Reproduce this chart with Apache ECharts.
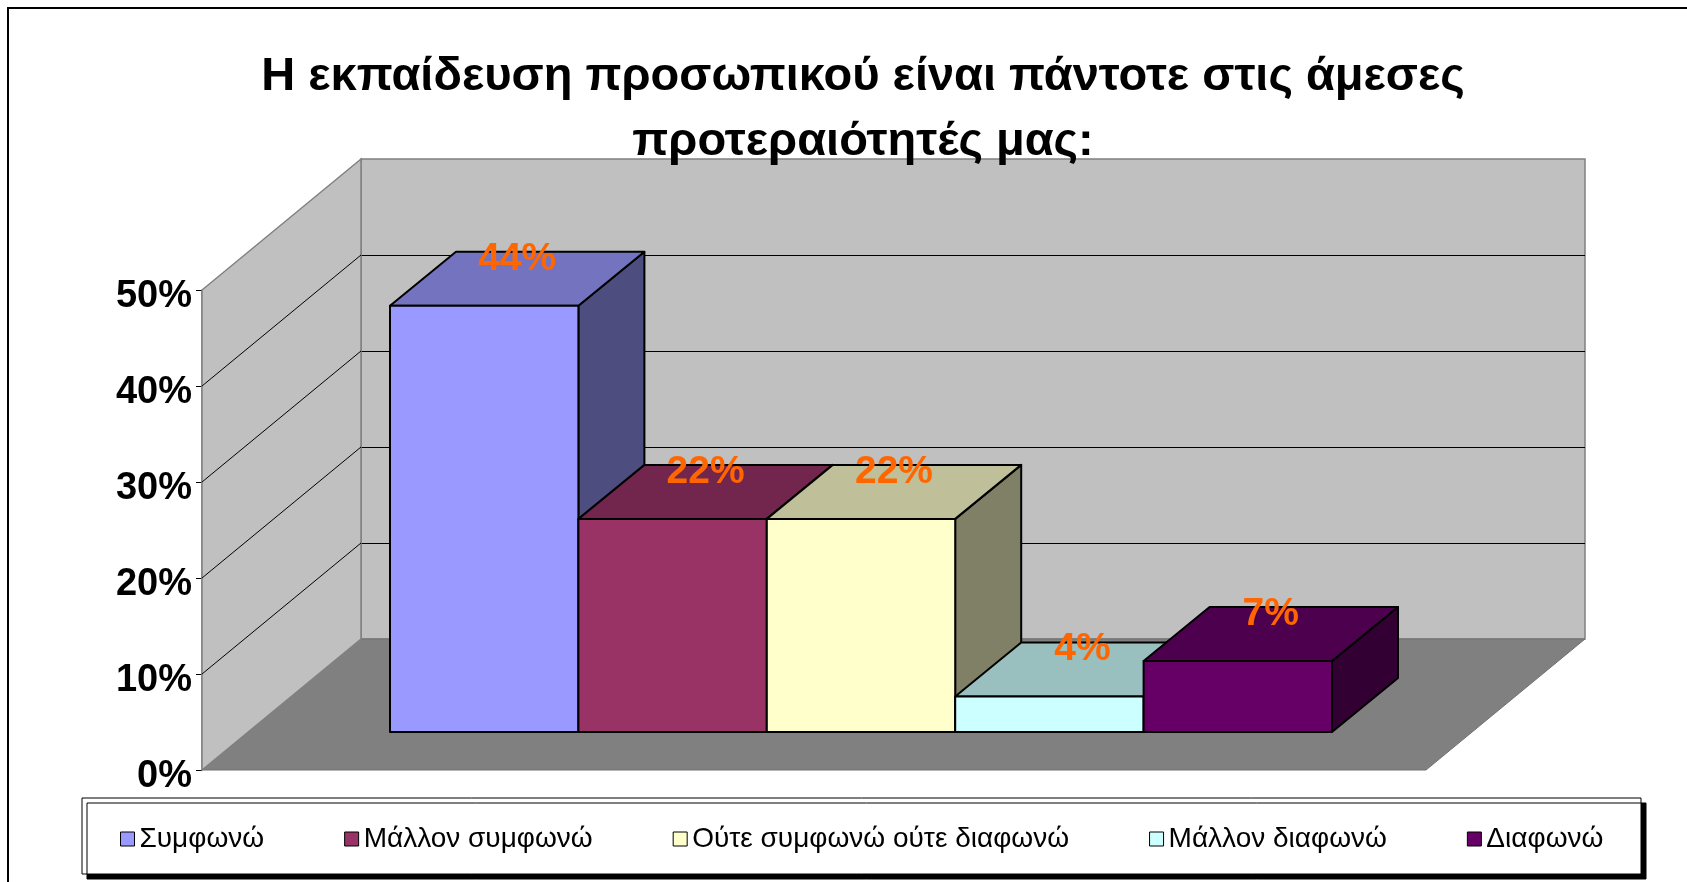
<!DOCTYPE html>
<html>
<head>
<meta charset="utf-8">
<script src="https://cdn.jsdelivr.net/npm/echarts@6/dist/echarts.min.js"></script>
<style>
  html, body { margin: 0; padding: 0; background: #fff; }
  #chart { width: 1687px; height: 882px; }
</style>
</head>
<body>
<div id="chart"></div>
<script>
// data
const titleLines = ['Η εκπαίδευση προσωπικού είναι πάντοτε στις άμεσες', 'προτεραιότητές μας:'];
const seriesNames = ['Συμφωνώ', 'Μάλλον συμφωνώ', 'Ούτε συμφωνώ ούτε διαφωνώ', 'Μάλλον διαφωνώ', 'Διαφωνώ'];
const seriesValues = [44.4, 22.2, 22.2, 3.7, 7.4];
const frontColors = ['#9999ff', '#993366', '#ffffcc', '#ccffff', '#660066'];
const yTicks = [0, 10, 20, 30, 40, 50];

// 3d look
const WALL_DEPTH = [159, -131];
const BAR_DEPTH = [66, -54];
const FONT = '"Liberation Sans", Arial, sans-serif';

function shade(hex, k) {
  const n = parseInt(hex.slice(1), 16);
  const r = Math.round(((n >> 16) & 255) * k);
  const g = Math.round(((n >> 8) & 255) * k);
  const b = Math.round((n & 255) * k);
  return 'rgb(' + r + ',' + g + ',' + b + ')';
}

function add(p, d) {
  return [p[0] + d[0], p[1] + d[1]];
}

function renderWalls(params, api) {
  const bl = api.coord([0, 0]);
  const br = api.coord([1, 0]);
  const tl = api.coord([0, yTicks[yTicks.length - 1]]);
  const D = WALL_DEPTH;
  const children = [
    {
      type: 'polygon',
      shape: { points: [bl, br, add(br, D), add(bl, D)] },
      style: { fill: '#808080', stroke: '#707070', lineWidth: 1 }
    },
    {
      type: 'polygon',
      shape: { points: [bl, tl, add(tl, D), add(bl, D)] },
      style: { fill: '#c0c0c0', stroke: '#808080', lineWidth: 1.5 }
    }
  ];
  yTicks.slice(1, -1).forEach(function (t) {
    const p = api.coord([0, t]);
    children.push({
      type: 'line',
      shape: { x1: p[0], y1: p[1], x2: p[0] + D[0], y2: p[1] + D[1] },
      style: { stroke: '#000', lineWidth: 1 }
    });
  });
  return { type: 'group', children: children };
}

function renderBar(params, api) {
  const i = api.value(0);
  const v = api.value(1);
  const base = api.coord([i, 0]);
  const top = api.coord([i, v]);
  const w = api.size([1, 0])[0];
  const x0 = base[0] - w / 2;
  const x1 = base[0] + w / 2;
  const yb = base[1];
  const yt = top[1];
  const d = BAR_DEPTH;
  const col = frontColors[params.seriesIndex - 1];
  const edge = { stroke: '#000', lineWidth: 2, lineJoin: 'round' };
  return {
    type: 'group',
    children: [
      {
        type: 'polygon',
        shape: { points: [[x1, yb], [x1, yt], [x1 + d[0], yt + d[1]], [x1 + d[0], yb + d[1]]] },
        style: Object.assign({ fill: shade(col, 0.5) }, edge)
      },
      {
        type: 'polygon',
        shape: { points: [[x0, yt], [x1, yt], [x1 + d[0], yt + d[1]], [x0 + d[0], yt + d[1]]] },
        style: Object.assign({ fill: shade(col, 0.75) }, edge)
      },
      {
        type: 'rect',
        shape: { x: x0, y: yt, width: w, height: yb - yt },
        style: Object.assign({ fill: col }, edge)
      },
      {
        type: 'text',
        style: {
          text: Math.round(v) + '%',
          x: base[0] + d[0] / 2,
          y: yt + d[1] + 7,
          fill: '#ff6600',
          font: 'bold 39px ' + FONT,
          align: 'center',
          verticalAlign: 'middle'
        }
      }
    ]
  };
}

const chart = echarts.init(document.getElementById('chart'));

const series = [
  {
    type: 'custom',
    name: 'walls',
    xAxisIndex: 1,
    yAxisIndex: 1,
    z: 1,
    silent: true,
    data: [[0, 0]],
    renderItem: renderWalls
  }
];
seriesNames.forEach(function (name, i) {
  series.push({
    type: 'custom',
    name: name,
    xAxisIndex: 0,
    yAxisIndex: 0,
    z: 2,
    itemStyle: { color: frontColors[i], borderColor: '#000', borderWidth: 1 },
    encode: { x: 0, y: 1 },
    data: [[i, seriesValues[i]]],
    renderItem: renderBar
  });
});

const option = {
  animation: false,
  title: {
    text: titleLines.join('\n'),
    left: 858,
    top: 40,
    textAlign: 'center',
    textStyle: {
      fontFamily: FONT,
      fontSize: 47,
      fontWeight: 'bold',
      color: '#000',
      lineHeight: 65
    }
  },
  graphic: [
    {
      type: 'rect',
      shape: { x: 8, y: 8, width: 1700, height: 900 },
      style: { fill: 'none', stroke: '#000', lineWidth: 2 }
    },
    {
      type: 'rect',
      shape: { x: 82, y: 798, width: 1559, height: 76 },
      style: {
        fill: '#fff', stroke: '#000', lineWidth: 1,
        shadowColor: '#000', shadowOffsetX: 5, shadowOffsetY: 5, shadowBlur: 0
      }
    }
  ],
  legend: {
    data: seriesNames,
    left: 115,
    top: 820,
    itemGap: 80,
    itemWidth: 14,
    itemHeight: 14,
    icon: 'rect',
    itemStyle: { borderColor: '#000', borderWidth: 1 },
    textStyle: { fontFamily: FONT, fontSize: 28, color: '#000' }
  },
  grid: [
    // bar front plane
    { left: 390, right: 355, top: 252, bottom: 150 },
    // front edge of the floor
    { left: 202, right: 261, top: 290, bottom: 112 },
    // back wall
    {
      left: 361, right: 102, top: 159, bottom: 243,
      show: true, backgroundColor: '#c0c0c0', borderColor: '#808080', borderWidth: 1.5
    }
  ],
  xAxis: [
    { gridIndex: 0, type: 'category', data: seriesNames, show: false },
    { gridIndex: 1, type: 'value', min: 0, max: 1, show: false },
    { gridIndex: 2, type: 'value', min: 0, max: 1, show: false }
  ],
  yAxis: [
    { gridIndex: 0, type: 'value', min: 0, max: 50, interval: 10, show: false },
    {
      gridIndex: 1, type: 'value', min: 0, max: 50, interval: 10,
      axisLine: { show: true, lineStyle: { color: '#808080', width: 1.5 } },
      axisTick: { show: true, length: 6, lineStyle: { color: '#000' } },
      splitLine: { show: false },
      axisLabel: {
        formatter: '{value}%',
        fontFamily: FONT,
        fontSize: 38,
        fontWeight: 'bold',
        color: '#000',
        margin: 10,
        verticalAlign: 'top',
        lineHeight: 14
      }
    },
    {
      gridIndex: 2, type: 'value', min: 0, max: 50, interval: 10,
      axisLine: { show: false },
      axisTick: { show: false },
      axisLabel: { show: false },
      splitLine: { show: true, showMinLine: false, showMaxLine: false, lineStyle: { color: '#000', width: 1 } }
    }
  ],
  series: series
};

chart.setOption(option);
</script>
</body>
</html>
